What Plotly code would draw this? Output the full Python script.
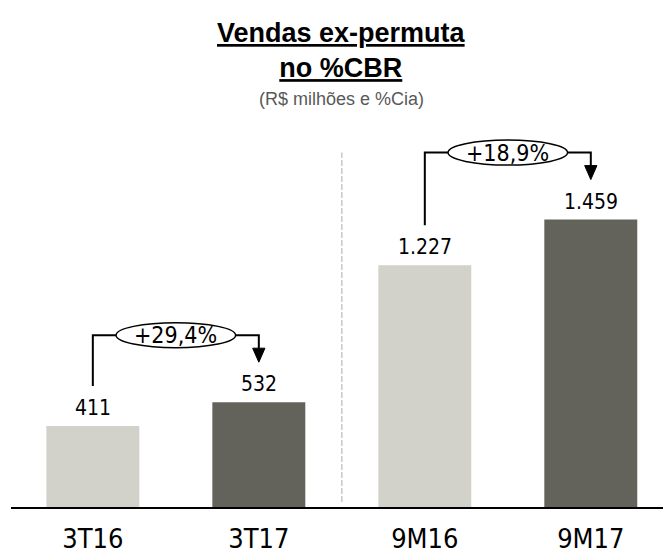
import plotly.graph_objects as go

# ---- data ----
categories = ["3T16", "3T17", "9M16", "9M17"]
values = [411, 532, 1227, 1459]
value_labels = ["411", "532", "1.227", "1.459"]
growth_pairs = [(0, 1), (2, 3)]
growth_labels = ["+29,4%", "+18,9%"]
bar_colors = ["#D2D2CA", "#63635B", "#D2D2CA", "#63635B"]

title_lines = ["Vendas ex-permuta", "no %CBR"]
subtitle = "(R$ milhões e %Cia)"

# ---- layout constants ----
W, H = 663, 551
ML, MR, MT, MB = 11, 0, 0, 44
PLOT_H = H - MT - MB
PX_PER_UNIT = 0.197
YMAX = PLOT_H / PX_PER_UNIT
XMIN, XMAX = -0.493, 3.435

LBL_FONT = "DejaVu Sans Condensed, DejaVu Sans, sans-serif"
TITLE_FONT = "Liberation Sans, Arial, sans-serif"


def py(px):
    """pixel y (from top of figure) -> paper y"""
    return 1 - (px - MT) / PLOT_H


def u(px):
    """pixel length -> data units on y"""
    return px / PX_PER_UNIT


fig = go.Figure()
fig.add_trace(go.Bar(
    x=list(range(len(categories))), y=values,
    marker=dict(color=bar_colors, line=dict(width=0)),
    width=0.56, hoverinfo="skip",
))

annotations = []
shapes = []

# value labels
for i, (v, t) in enumerate(zip(values, value_labels)):
    annotations.append(dict(x=i, y=v, xref="x", yref="y", text=t, showarrow=False,
                            yanchor="bottom", yshift=4,
                            font=dict(family=LBL_FONT, size=21, color="#000000")))

# growth brackets
head_h = u(14)
head_hw = 0.037
levels = []
for (a, b), g in zip(growth_pairs, growth_labels):
    level = max(values[a], values[b]) + u(67)
    levels.append(level)
    start = values[a] + u(40)
    tip = values[b] + u(40)
    shapes.append(dict(type="path", xref="x", yref="y",
                       path=f"M {a},{start} L {a},{level} L {b},{level} L {b},{tip + head_h}",
                       line=dict(color="#000000", width=2)))
    shapes.append(dict(type="path", xref="x", yref="y",
                       path=f"M {b - head_hw},{tip + head_h} L {b + head_hw},{tip + head_h} L {b},{tip} Z",
                       fillcolor="#000000", line=dict(color="#000000", width=1)))
    mid = (a + b) / 2
    shapes.append(dict(type="circle", xref="x", yref="y",
                       x0=mid - 0.36, x1=mid + 0.36,
                       y0=level - u(12.5), y1=level + u(12.5),
                       fillcolor="#FFFFFF", line=dict(color="#000000", width=1.5)))
    annotations.append(dict(x=mid, y=level, xref="x", yref="y", text=g, showarrow=False,
                            font=dict(family=LBL_FONT, size=23, color="#000000")))

# dashed separator
shapes.append(dict(type="line", xref="x", yref="y", x0=1.5, x1=1.5,
                   y0=u(5), y1=levels[1],
                   line=dict(color="#C8C8C8", width=1.5, dash="6px,2px")))

# title & subtitle
annotations.append(dict(x=1.5, y=py(16), xref="x", yref="paper", yanchor="top",
                        text="<br>".join(f"<b><u>{t}</u></b>" for t in title_lines),
                        showarrow=False,
                        font=dict(family=TITLE_FONT, size=27, color="#000000")))
annotations.append(dict(x=1.5, y=py(99), xref="x", yref="paper", yanchor="middle",
                        text=subtitle, showarrow=False,
                        font=dict(family=TITLE_FONT, size=18, color="#595959")))

fig.update_layout(
    width=W, height=H,
    margin=dict(l=ML, r=MR, t=MT, b=MB, pad=0, autoexpand=False),
    paper_bgcolor="#FFFFFF", plot_bgcolor="#FFFFFF",
    showlegend=False,
    annotations=annotations,
    shapes=shapes,
    xaxis=dict(range=[XMIN, XMAX], tickmode="array",
               tickvals=list(range(len(categories))), ticktext=categories,
               showgrid=False, zeroline=False, showline=True,
               linecolor="#000000", linewidth=2, ticks="",
               automargin=False, ticklabelstandoff=7,
               tickfont=dict(family=LBL_FONT, size=27, color="#000000")),
    yaxis=dict(range=[0, YMAX], visible=False, showgrid=False, zeroline=False,
               automargin=False),
)

fig.write_html("out.html",
               config={"displayModeBar": False},
               post_script="document.body.style.margin='0';document.body.style.overflow='hidden';")
